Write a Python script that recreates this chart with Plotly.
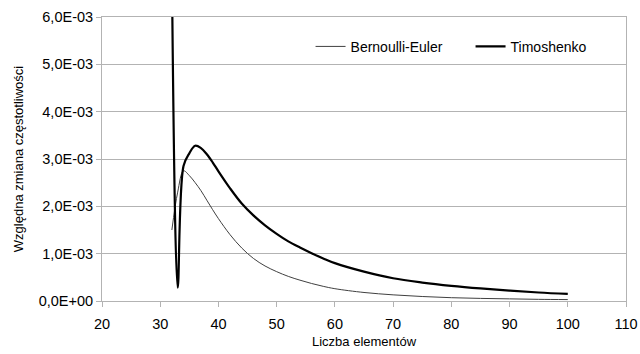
import plotly.graph_objects as go

# Number of elements
elements = [32, 33, 34, 35, 36, 37, 38, 39, 40, 42, 44, 46, 48, 50, 52, 54, 56, 58, 60,
            65, 70, 75, 80, 85, 90, 95, 100]

# Relative frequency change
bernoulli = [1.5e-3, 2.3e-3, 2.75e-3, 2.65e-3, 2.5e-3, 2.33e-3, 2.13e-3, 1.93e-3, 1.74e-3,
             1.4e-3, 1.12e-3, 0.9e-3, 0.74e-3, 0.62e-3, 0.52e-3, 0.44e-3, 0.37e-3, 0.31e-3, 0.26e-3,
             0.18e-3, 0.13e-3, 0.095e-3, 0.07e-3, 0.055e-3, 0.045e-3, 0.035e-3, 0.03e-3]
timoshenko = [7.0e-3, 0.28e-3, 2.85e-3, 3.12e-3, 3.28e-3, 3.23e-3, 3.1e-3, 2.93e-3, 2.74e-3,
              2.38e-3, 2.06e-3, 1.81e-3, 1.6e-3, 1.42e-3, 1.26e-3, 1.13e-3, 1.01e-3, 0.9e-3, 0.8e-3,
              0.62e-3, 0.48e-3, 0.39e-3, 0.32e-3, 0.265e-3, 0.22e-3, 0.18e-3, 0.15e-3]

y_tickvals = [0, 1e-3, 2e-3, 3e-3, 4e-3, 5e-3, 6e-3]
y_ticktext = ["0,0E+00", "1,0E-03", "2,0E-03", "3,0E-03", "4,0E-03", "5,0E-03", "6,0E-03"]
x_tickvals = [20, 30, 40, 50, 60, 70, 80, 90, 100, 110]

grid = "#b3b3b3"
font = "Liberation Sans, Arial, sans-serif"

fig = go.Figure()
fig.add_trace(go.Scatter(x=elements, y=bernoulli, name="Bernoulli-Euler", mode="lines",
                         line=dict(color="#404040", width=1, shape="spline", smoothing=1)))
fig.add_trace(go.Scatter(x=elements, y=timoshenko, name="Timoshenko", mode="lines",
                         line=dict(color="#000000", width=2.2, shape="spline", smoothing=1)))

fig.update_layout(
    width=640, height=354,
    margin=dict(l=102, r=14, t=17, b=53, autoexpand=False),
    paper_bgcolor="white", plot_bgcolor="white",
    font=dict(family=font, size=14, color="#000000"),
    showlegend=True,
    legend=dict(orientation="h", x=0.398, xanchor="left", y=0.895, yanchor="middle",
                bgcolor="rgba(0,0,0,0)", font=dict(size=14), entrywidth=115,
                itemwidth=30),
)
fig.update_xaxes(
    range=[20, 110], tickvals=x_tickvals, showgrid=False,
    showline=True, linecolor=grid, linewidth=1, mirror=True,
    ticks="outside", ticklen=5, tickcolor=grid, ticklabelstandoff=5,
    tickfont=dict(size=14.5), zeroline=False,
    title=dict(text="Liczba elementów", font=dict(size=13), standoff=5),
)
fig.update_yaxes(
    range=[0, 6e-3], tickvals=y_tickvals, ticktext=y_ticktext,
    showgrid=True, gridcolor=grid, gridwidth=1,
    showline=True, linecolor=grid, linewidth=1, mirror=True,
    ticks="outside", ticklen=5, tickcolor=grid,
    tickfont=dict(size=14.5), zeroline=False,
    title=dict(text="Względna zmiana częstotliwości", font=dict(size=13), standoff=12),
)

fig.write_html("out.html")
